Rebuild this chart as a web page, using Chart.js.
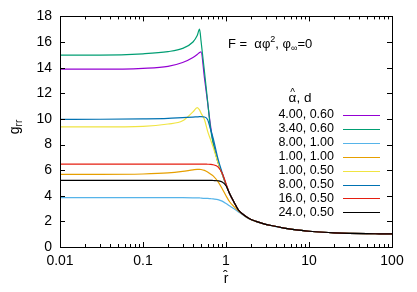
<!DOCTYPE html>
<html>
<head>
<meta charset="utf-8">
<script src="https://cdn.jsdelivr.net/npm/chart.js@4"></script>
<style>
  html, body { margin: 0; padding: 0; background: #fff; }
</style>
</head>
<body>
<canvas id="grrChart" width="417" height="292"></canvas>
<script>
// radial coordinate r-hat (log axis)
const rVals = [0.01, 0.03, 0.1, 0.2, 0.3, 0.4, 0.45, 0.48, 0.5, 0.55, 0.6, 0.65, 0.7, 0.8, 0.9,
  1.0, 1.1, 1.25, 1.4, 1.6, 1.9, 2.3, 2.8, 3.5, 5, 7, 10, 15, 20, 30, 50, 70, 100];

// g_rr for each (alpha-hat, d)
const g400_060 = [13.88, 13.88, 13.95, 14.1, 14.4, 14.8, 15.03, 15.18, 15.23, 13.2, 11.3, 9.5, 8.2, 6.65, 5.7,
  4.85, 4.2, 3.5, 2.92, 2.55, 2.22, 2.0, 1.83, 1.68, 1.48, 1.33, 1.23, 1.15, 1.11, 1.07, 1.04, 1.03, 1.02];
const g340_060 = [14.98, 14.98, 15.08, 15.25, 15.5, 16.0, 16.5, 17.0, 16.1, 13.7, 11.4, 9.3, 8.1, 6.6, 5.7,
  4.85, 4.2, 3.5, 2.92, 2.55, 2.22, 2.0, 1.83, 1.68, 1.48, 1.33, 1.23, 1.15, 1.11, 1.07, 1.04, 1.03, 1.02];
const g800_100 = [3.85, 3.85, 3.85, 3.85, 3.85, 3.84, 3.83, 3.83, 3.82, 3.8, 3.79, 3.77, 3.75, 3.7, 3.58,
  3.4, 3.22, 2.98, 2.76, 2.5, 2.18, 1.98, 1.82, 1.67, 1.47, 1.33, 1.23, 1.15, 1.11, 1.07, 1.04, 1.03, 1.02];
const g100_100 = [5.67, 5.67, 5.7, 5.78, 5.9, 6.02, 6.06, 6.06, 6.05, 5.98, 5.85, 5.7, 5.55, 5.1, 4.55,
  4.0, 3.55, 3.15, 2.85, 2.53, 2.2, 2.0, 1.83, 1.68, 1.48, 1.33, 1.23, 1.15, 1.11, 1.07, 1.04, 1.03, 1.02];
const g100_050 = [9.38, 9.38, 9.42, 9.6, 9.85, 10.55, 10.88, 10.7, 10.45, 9.95, 9.05, 8.4, 7.8, 6.6, 5.7,
  4.85, 4.2, 3.5, 2.92, 2.55, 2.22, 2.0, 1.83, 1.68, 1.48, 1.33, 1.23, 1.15, 1.11, 1.07, 1.04, 1.03, 1.02];
const g800_050 = [9.96, 9.97, 10.0, 10.04, 10.1, 10.14, 10.16, 10.17, 10.17, 10.15, 9.95, 9.2, 8.5, 6.9, 5.8,
  4.9, 4.2, 3.5, 2.92, 2.55, 2.22, 2.0, 1.83, 1.68, 1.48, 1.33, 1.23, 1.15, 1.11, 1.07, 1.04, 1.03, 1.02];
const g1600_050 = [6.47, 6.47, 6.47, 6.47, 6.47, 6.47, 6.47, 6.47, 6.47, 6.47, 6.46, 6.45, 6.42, 6.25, 5.75,
  4.95, 4.2, 3.5, 2.92, 2.55, 2.22, 2.0, 1.83, 1.68, 1.48, 1.33, 1.23, 1.15, 1.11, 1.07, 1.04, 1.03, 1.02];
const g2400_050 = [5.2, 5.2, 5.2, 5.2, 5.2, 5.2, 5.2, 5.2, 5.2, 5.2, 5.2, 5.2, 5.19, 5.17, 5.08,
  4.78, 4.2, 3.5, 2.92, 2.55, 2.22, 2.0, 1.83, 1.68, 1.48, 1.33, 1.23, 1.15, 1.11, 1.07, 1.04, 1.03, 1.02];

const seriesLabels = ["4.00, 0.60", "3.40, 0.60", "8.00, 1.00", "1.00, 1.00",
  "1.00, 0.50", "8.00, 0.50", "16.0, 0.50", "24.0, 0.50"];
const seriesValues = [g400_060, g340_060, g800_100, g100_100, g100_050, g800_050, g1600_050, g2400_050];
const seriesColors = ["#9400d3", "#009e73", "#56b4e9", "#e69f00", "#f0e442", "#0072b2", "#e51e10", "#000000"];

const xMajor = [0.01, 0.1, 1, 10, 100];
const yTicks = [0, 2, 4, 6, 8, 10, 12, 14, 16, 18];

const FONT = "'Liberation Sans', Arial, sans-serif";

// inward ticks + full border, gnuplot style
const frameTicks = {
  id: "frameTicks",
  afterDatasetsDraw(chart) {
    const ctx = chart.ctx;
    const { left, right, top, bottom } = chart.chartArea;
    const xs = chart.scales.x, ys = chart.scales.y;
    ctx.save();
    ctx.strokeStyle = "#000";
    ctx.lineWidth = 1;
    ctx.beginPath();
    yTicks.forEach((v) => {
      const py = Math.round(ys.getPixelForValue(v)) + 0.5;
      ctx.moveTo(left, py); ctx.lineTo(left + 5, py);
      ctx.moveTo(right, py); ctx.lineTo(right - 5, py);
    });
    for (let e = -2; e <= 2; e++) {
      for (let k = 1; k <= 9; k++) {
        if (e === 2 && k > 1) break;
        const v = k * Math.pow(10, e);
        const px = Math.round(xs.getPixelForValue(v)) + 0.5;
        const len = k === 1 ? 5 : 3;
        ctx.moveTo(px, bottom); ctx.lineTo(px, bottom - len);
        ctx.moveTo(px, top); ctx.lineTo(px, top + len);
      }
    }
    ctx.stroke();
    ctx.strokeRect(Math.round(left) + 0.5, Math.round(top) + 0.5,
      Math.round(right - left), Math.round(bottom - top));
    ctx.restore();
  },
  afterDraw(chart) {
    const ctx = chart.ctx;
    ctx.save();
    ctx.fillStyle = "#000";
    ctx.textBaseline = "alphabetic";

    // y axis label g_rr, rotated
    ctx.translate(15, 127);
    ctx.rotate(-Math.PI / 2);
    ctx.font = "14px " + FONT;
    ctx.textAlign = "left";
    const gW = ctx.measureText("g").width;
    ctx.font = "10px " + FONT;
    const rrW = ctx.measureText("rr").width;
    const x0 = -(gW + rrW) / 2;
    ctx.font = "14px " + FONT;
    ctx.fillText("g", x0, 4);
    ctx.font = "10px " + FONT;
    ctx.fillText("rr", x0 + gW, 7);
    ctx.restore();

    // annotation F = alpha phi^2, phi_inf = 0
    ctx.save();
    ctx.fillStyle = "#000";
    ctx.textAlign = "left";
    ctx.textBaseline = "alphabetic";
    let x = 228;
    const base = 48;
    const part = (t, size, dy) => {
      ctx.font = size + "px " + FONT;
      ctx.fillText(t, x, base + dy);
      x += ctx.measureText(t).width;
    };
    part("F =  αφ", 13, 0);
    part("2", 9, -6);
    part(", φ", 13, 0);
    part("∞", 9, 3);
    part("=0", 13, 0);
    ctx.restore();

    // key header: alpha with hat, then ", d"
    ctx.save();
    ctx.fillStyle = "#000";
    ctx.textBaseline = "alphabetic";
    ctx.textAlign = "left";
    ctx.font = "13.5px " + FONT;
    const aW = ctx.measureText("α").width;
    const restW = ctx.measureText(", d").width;
    const hx = 300 - (aW + restW) / 2;
    ctx.fillText("α", hx, 102);
    ctx.fillText(", d", hx + aW, 102);
    ctx.font = "10px " + FONT;
    ctx.textAlign = "center";
    ctx.fillText("^", hx + aW / 2, 96);

    // key entries, gnuplot style: text right aligned, sample line right of it
    ctx.font = "12.5px " + FONT;
    ctx.textAlign = "right";
    ctx.textBaseline = "middle";
    chart.data.datasets.forEach((ds, i) => {
      const y = 115 + i * 13.9;
      ctx.fillStyle = "#000";
      ctx.fillText(ds.label, 334, y);
      ctx.strokeStyle = seriesColors[i];
      ctx.lineWidth = 1.2;
      ctx.beginPath();
      ctx.moveTo(343, Math.round(y) + 0.5);
      ctx.lineTo(380, Math.round(y) + 0.5);
      ctx.stroke();
    });
    ctx.restore();
  }
};

Chart.defaults.font.family = FONT;
Chart.defaults.color = "#000";

new Chart(document.getElementById("grrChart"), {
  type: "line",
  data: {
    datasets: seriesValues.map((vals, i) => ({
      label: seriesLabels[i],
      data: rVals.map((r, j) => ({ x: r, y: vals[j] })),
      borderColor: seriesColors[i],
      borderWidth: 1.2,
      pointRadius: 0,
      fill: false,
      cubicInterpolationMode: "monotone",
      order: seriesValues.length - 1 - i,
    })),
  },
  options: {
    responsive: false,
    animation: false,
    layout: { padding: { top: 16, right: 25, left: 0, bottom: 0 } },
    plugins: { legend: { display: false }, tooltip: { enabled: false } },
    scales: {
      x: {
        type: "logarithmic",
        min: 0.01,
        max: 100,
        grid: { display: false, drawTicks: false },
        border: { display: false },
        ticks: {
          autoSkip: false,
          maxRotation: 0,
          padding: 6,
          font: { size: 14 },
          callback: (v) => {
            const hit = xMajor.find((m) => Math.abs(Math.log10(v) - Math.log10(m)) < 1e-6);
            return hit !== undefined ? String(hit) : "";
          },
        },
        title: { display: true, text: "r\u0302", font: { size: 14 }, padding: { top: 0, bottom: 4 } },
        afterFit: (s) => { s.height = 45; },
      },
      y: {
        min: 0,
        max: 18,
        grid: { display: false, drawTicks: false },
        border: { display: false },
        ticks: { stepSize: 2, padding: 8, font: { size: 14 } },
        afterFit: (s) => { s.width = 60; },
      },
    },
  },
  plugins: [frameTicks],
});
</script>
</body>
</html>
